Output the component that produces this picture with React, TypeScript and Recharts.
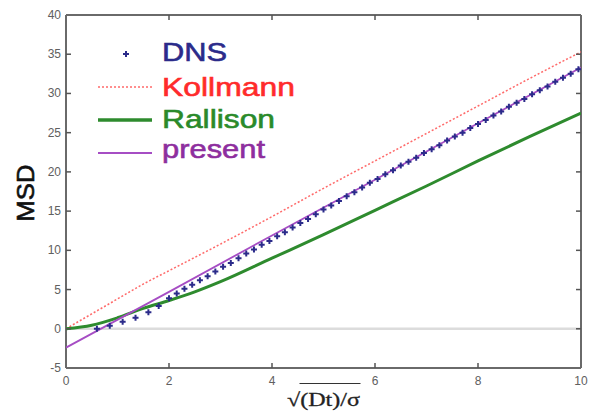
import React from "react";
import {
  ComposedChart,
  Legend,
  Line,
  ReferenceLine,
  Scatter,
  XAxis,
  YAxis,
} from "recharts";

const xTicks = [0, 2, 4, 6, 8, 10];
const yTicks = [-5, 0, 5, 10, 15, 20, 25, 30, 35, 40];

// DNS (markers)
const dnsX = [
  0.6, 0.85, 1.1, 1.35, 1.6, 1.8, 2.0, 2.15, 2.3, 2.45, 2.6, 2.75, 2.9, 3.05,
  3.2, 3.35, 3.5, 3.65, 3.8, 3.95, 4.1, 4.25, 4.4, 4.55, 4.7, 4.85, 5.0, 5.15,
  5.3, 5.45, 5.6, 5.75, 5.9, 6.05, 6.2, 6.35, 6.5, 6.65, 6.8, 6.95, 7.1, 7.25,
  7.4, 7.55, 7.7, 7.85, 8.0, 8.15, 8.3, 8.45, 8.6, 8.75, 8.9, 9.05, 9.2, 9.35,
  9.5, 9.65, 9.8, 9.95,
];
const dnsY = [
  0.0, 0.4, 0.9, 1.4, 2.1, 2.9, 3.9, 4.5, 5.1, 5.6, 6.2, 6.7, 7.3, 7.9, 8.4,
  9.0, 9.6, 10.1, 10.7, 11.2, 11.8, 12.3, 12.9, 13.5, 14.0, 14.6, 15.2, 15.7,
  16.3, 16.9, 17.4, 18.0, 18.6, 19.1, 19.7, 20.2, 20.8, 21.3, 21.8, 22.4, 22.9,
  23.4, 24.0, 24.5, 25.0, 25.6, 26.1, 26.6, 27.2, 27.7, 28.3, 28.8, 29.3, 29.9,
  30.4, 30.9, 31.5, 32.0, 32.5, 33.1,
];

// Kollmann
const kollmannX = [0, 0.5, 1, 1.5, 2, 3, 4, 5, 6, 7, 8, 9, 10];
const kollmannY = [0, 1.9, 3.8, 5.7, 7.4, 10.8, 14.3, 17.9, 21.4, 24.9, 28.4, 31.9, 35.3];

// Rallison
const rallisonX = [0, 0.5, 1, 1.5, 2, 2.5, 3, 4, 5, 6, 7, 8, 9, 10];
const rallisonY = [0, 0.45, 1.4, 2.6, 3.6, 4.7, 6.0, 9.0, 12.0, 15.1, 18.2, 21.4, 24.5, 27.5];

// present
const presentX = [0, 2, 4, 6, 8, 10];
const presentY = [-2.4, 4.7, 11.9, 19.0, 26.2, 33.3];

const legendNames = ["DNS", "Kollmann", "Rallison", "present"];
const legendColors = ["#2b2b8a", "#ff2b2b", "#2a8a2a", "#8e2e9e"];

const pairs = (xs: number[], ys: number[]) => xs.map((x, i) => ({ x, y: ys[i] }));

const dns = pairs(dnsX, dnsY);
const kollmann = pairs(kollmannX, kollmannY);
const rallison = pairs(rallisonX, rallisonY);
const present = pairs(presentX, presentY);

const X_MIN = 0;
const X_MAX = 10;
const Y_MIN = -5;
const Y_MAX = 40;

const AXIS = "#6a6a6a";
const TICK_TEXT = "#606060";
const SANS = "'Liberation Sans', Arial, sans-serif";
const TICK_LEN = 5;

// inward tick marks on all four sides of the box
const innerX = xTicks.filter((t) => t > X_MIN && t < X_MAX);
const innerY = yTicks.filter((t) => t > Y_MIN && t < Y_MAX);
const tickMarks = [
  ...innerX.map((t) => ({ x: t, y: Y_MIN, side: "bottom" })),
  ...innerX.map((t) => ({ x: t, y: Y_MAX, side: "top" })),
  ...innerY.map((t) => ({ x: X_MIN, y: t, side: "left" })),
  ...innerY.map((t) => ({ x: X_MAX, y: t, side: "right" })),
];

const TickMark = (p: any) => {
  const { cx, cy } = p;
  if (cx == null || cy == null) return null;
  const side = p.side ?? p.payload?.side;
  let d = "";
  if (side === "bottom") d = `M${cx},${cy}V${cy - TICK_LEN}`;
  else if (side === "top") d = `M${cx},${cy}V${cy + TICK_LEN}`;
  else if (side === "left") d = `M${cx},${cy}H${cx + TICK_LEN}`;
  else d = `M${cx},${cy}H${cx - TICK_LEN}`;
  return <path d={d} stroke="#555" strokeWidth={1.5} fill="none" />;
};

const Plus = (p: any) => {
  const { cx, cy } = p;
  if (cx == null || cy == null) return null;
  return (
    <path
      d={`M${cx - 3},${cy}H${cx + 3}M${cx},${cy - 3}V${cy + 3}`}
      stroke="#2b2b8a"
      strokeWidth={2}
      fill="none"
    />
  );
};

const BottomTick = ({ x, y, payload }: any) => (
  <text x={x} y={y + 17} textAnchor="middle" fontSize={12} fill={TICK_TEXT} fontFamily={SANS}>
    {payload.value}
  </text>
);

const LeftTick = ({ x, y, payload }: any) => (
  <text x={x - 5} y={y + 4} textAnchor="end" fontSize={12} fill={TICK_TEXT} fontFamily={SANS}>
    {payload.value}
  </text>
);

const XLabel = ({ viewBox }: any) => {
  const cx = viewBox.x + viewBox.width / 2;
  const top = viewBox.y;
  return (
    <g>
      <text
        x={cx - 36.5}
        y={top + 38}
        fontSize={19}
        fill="#222"
        stroke="#222"
        strokeWidth={0.3}
        fontFamily="'Liberation Serif', 'Times New Roman', serif"
        textLength={73}
        lengthAdjust="spacingAndGlyphs"
      >
        √(Dt)/σ
      </text>
      <line x1={cx - 24} x2={cx + 37} y1={top + 15.5} y2={top + 15.5} stroke="#333" strokeWidth={1} />
    </g>
  );
};

const YLabel = () => (
  <text
    x={25}
    y={193}
    transform="rotate(-90 25 193)"
    textAnchor="middle"
    dominantBaseline="central"
    fontSize={24}
    fill="#111"
    stroke="#111"
    strokeWidth={0.6}
    fontFamily={SANS}
    textLength={57}
    lengthAdjust="spacingAndGlyphs"
  >
    MSD
  </text>
);

const rows = [
  { sampleY: 54, baseline: 61, textLen: 65 },
  { sampleY: 87, baseline: 96, textLen: 133 },
  { sampleY: 120, baseline: 128, textLen: 113 },
  { sampleY: 153, baseline: 158, textLen: 103 },
];

const LegendBox = () => (
  <svg width={590} height={414} style={{ pointerEvents: "none" }}>
    {legendNames.map((name, i) => {
      const r = rows[i];
      let sample: React.ReactNode = null;
      if (i === 0) {
        sample = <Plus cx={126} cy={r.sampleY} />;
      } else if (i === 1) {
        sample = (
          <line x1={98} x2={152} y1={r.sampleY} y2={r.sampleY} stroke="#ff6a6a" strokeWidth={1.5} strokeDasharray="2 2" />
        );
      } else if (i === 2) {
        sample = <line x1={98} x2={152} y1={r.sampleY} y2={r.sampleY} stroke="#2e8b2e" strokeWidth={3.5} />;
      } else {
        sample = <line x1={98} x2={152} y1={r.sampleY} y2={r.sampleY} stroke="#a64dc4" strokeWidth={2} />;
      }
      return (
        <g key={name}>
          {sample}
          <text
            x={162}
            y={r.baseline}
            fontSize={26}
            fill={legendColors[i]}
            stroke={legendColors[i]}
            strokeWidth={0.6}
            fontFamily={SANS}
            textLength={r.textLen}
            lengthAdjust="spacingAndGlyphs"
          >
            {name}
          </text>
        </g>
      );
    })}
  </svg>
);

export default function App() {
  return (
    <div style={{ position: "absolute", left: 0, top: 0, width: 590, height: 414, background: "#fff" }}>
      <ComposedChart width={590} height={414} margin={{ top: 15, right: 9, bottom: 16, left: 0 }}>
        <XAxis
          dataKey="x"
          type="number"
          domain={[X_MIN, X_MAX]}
          ticks={xTicks}
          height={30}
          tickSize={0}
          tickMargin={0}
          tick={<BottomTick />}
          axisLine={false}
          allowDataOverflow
          label={<XLabel />}
        />
        <YAxis
          type="number"
          domain={[Y_MIN, Y_MAX]}
          ticks={yTicks}
          width={66}
          tickSize={0}
          tickMargin={0}
          tick={<LeftTick />}
          axisLine={false}
          allowDataOverflow
          label={<YLabel />}
        />
        <ReferenceLine y={0} stroke="#dcdcdc" strokeWidth={2.5} />
        <ReferenceLine x={X_MIN} stroke={AXIS} strokeWidth={2} ifOverflow="visible" />
        <ReferenceLine x={X_MAX} stroke={AXIS} strokeWidth={2} ifOverflow="visible" />
        <ReferenceLine y={Y_MIN} stroke={AXIS} strokeWidth={2} ifOverflow="visible" />
        <ReferenceLine y={Y_MAX} stroke={AXIS} strokeWidth={2} ifOverflow="visible" />
        <Scatter data={tickMarks} dataKey="y" shape={<TickMark />} isAnimationActive={false} />
        <Line
          data={kollmann}
          dataKey="y"
          type="monotone"
          stroke="#ff6a6a"
          strokeWidth={1.5}
          strokeDasharray="2 2"
          dot={false}
          isAnimationActive={false}
        />
        <Line
          data={rallison}
          dataKey="y"
          type="monotone"
          stroke="#2e8b2e"
          strokeWidth={3}
          dot={false}
          isAnimationActive={false}
        />
        <Line
          data={present}
          dataKey="y"
          type="linear"
          stroke="#a64dc4"
          strokeWidth={1.8}
          dot={false}
          isAnimationActive={false}
        />
        <Scatter data={dns} dataKey="y" shape={<Plus />} isAnimationActive={false} />
        <Legend
          layout="vertical"
          align="center"
          verticalAlign="middle"
          wrapperStyle={{ left: 0, top: 0, width: 590, height: 414 }}
          content={() => <LegendBox />}
        />
      </ComposedChart>
    </div>
  );
}
